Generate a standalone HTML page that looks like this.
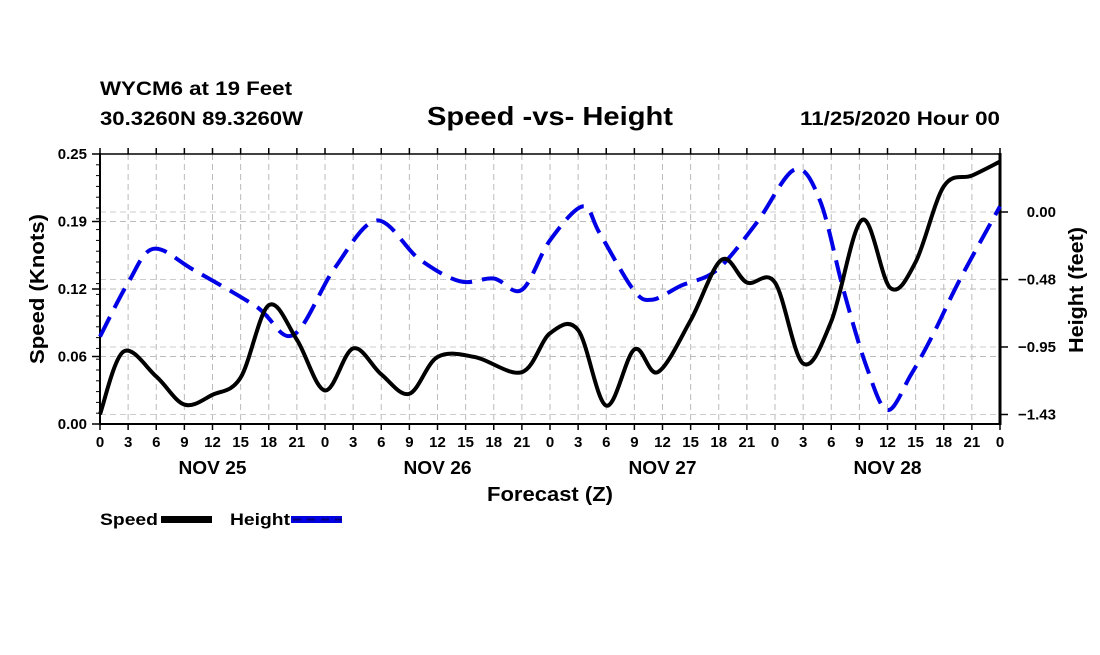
<!DOCTYPE html>
<html><head><meta charset="utf-8"><style>
body{margin:0;background:#fff;}
svg text{font-family:"Liberation Sans",sans-serif;font-weight:bold;fill:#000;}
</style></head><body>
<svg id="chart" width="1100" height="650" viewBox="0 0 1100 650" xmlns="http://www.w3.org/2000/svg">
<text x="100" y="95" font-size="19" textLength="192" lengthAdjust="spacingAndGlyphs">WYCM6 at 19 Feet</text>
<text x="100" y="125" font-size="19" textLength="203" lengthAdjust="spacingAndGlyphs">30.3260N 89.3260W</text>
<text x="427" y="125" font-size="26" textLength="246" lengthAdjust="spacingAndGlyphs">Speed -vs- Height</text>
<text x="800" y="125" font-size="19" textLength="200" lengthAdjust="spacingAndGlyphs">11/25/2020 Hour 00</text>
<g id="grid"></g><g id="axes"></g><g id="series"></g>
<text transform="translate(44,289) rotate(-90)" font-size="20" text-anchor="middle" textLength="150" lengthAdjust="spacingAndGlyphs">Speed (Knots)</text>
<text transform="translate(1083,290) rotate(-90)" font-size="20" text-anchor="middle" textLength="126" lengthAdjust="spacingAndGlyphs">Height (feet)</text>
<text x="550" y="501" font-size="20" text-anchor="middle" textLength="126" lengthAdjust="spacingAndGlyphs">Forecast (Z)</text>
<g>
<text x="100" y="525" font-size="17" textLength="58" lengthAdjust="spacingAndGlyphs">Speed</text>
<rect x="161" y="516" width="51" height="7" fill="#000"/>
<text x="230" y="525" font-size="17" textLength="60" lengthAdjust="spacingAndGlyphs">Height</text>
<rect x="291" y="516" width="51" height="7" fill="#0000e0"/>
<line x1="293" y1="519.5" x2="342" y2="519.5" stroke="#000080" stroke-width="2" stroke-dasharray="8,6"/>
</g>
</svg>
<script>
const speedHours=[0,2.5,6,9,12,15,18,21,24,27,30,33,36,40,45,48,51,54,57,59.5,63,66.3,69,72,75,78,81.3,84.3,87,90,93,96];
const speedVals=[0.009,0.067,0.044,0.018,0.027,0.043,0.110,0.078,0.031,0.070,0.046,0.028,0.062,0.062,0.048,0.084,0.087,0.017,0.069,0.048,0.096,0.152,0.131,0.131,0.056,0.095,0.189,0.126,0.150,0.220,0.230,0.243];
const heightHours=[0,3,5.7,10,16.7,20.6,25,29.5,34,38.4,42,45,48,51.5,53.3,56.9,58.9,62,65.8,70,74.1,76.8,79.3,81.8,84,86.5,88.9,91.7,96];
const heightVals=[-0.88,-0.50,-0.26,-0.41,-0.67,-0.87,-0.40,-0.06,-0.33,-0.49,-0.47,-0.55,-0.20,0.04,-0.15,-0.55,-0.62,-0.52,-0.41,-0.08,0.30,0.08,-0.55,-1.10,-1.40,-1.15,-0.86,-0.48,0.04];
const speedTicks=["0.00","0.06","0.12","0.19","0.25"];
const heightTicks=["0.00","-0.48","-0.95","-1.43"];
const heightTickVals=[0,-0.477,-0.954,-1.431];
const hourLabels=["0","3","6","9","12","15","18","21"];
const dayLabels=["NOV 25","NOV 26","NOV 27","NOV 28"];

const L=100,R=1000,T=154,B=424;
const xs=h=>L+h*(R-L)/96;
const ys=v=>B-v*(B-T)/0.25;
const yh=v=>212-v*141.5;
const NS="http://www.w3.org/2000/svg";
function mk(tag,attrs,parent){const e=document.createElementNS(NS,tag);for(const k in attrs)e.setAttribute(k,attrs[k]);parent.appendChild(e);return e;}
const grid=document.getElementById('grid'),axes=document.getElementById('axes'),ser=document.getElementById('series');
for(let i=0;i<=32;i++){
  const x=xs(i*3);
  if(i>0&&i<32){const g=mk('line',{x1:x,y1:T,x2:x,y2:B,stroke:'#bbb','stroke-width':1,'stroke-dasharray':'6,4'},grid);
  }
  mk('line',{x1:x,y1:B,x2:x,y2:B+6,stroke:'#000','stroke-width':1.5},axes);
  mk('line',{x1:x,y1:T,x2:x,y2:T-6,stroke:'#000','stroke-width':1.5},axes);
  const lab=i===32?"0":hourLabels[i%8];
  const t=mk('text',{x:x,y:B+23,'font-size':15,'text-anchor':'middle'},axes);t.textContent=lab;
  
}
dayLabels.forEach((d,i)=>{const t=mk('text',{x:xs(i*24+12),y:B+50,'font-size':18,'text-anchor':'middle',textLength:68,lengthAdjust:'spacingAndGlyphs'},axes);t.textContent=d;
});
speedTicks.forEach((s,i)=>{const v=i*0.0625,y=ys(v);
  if(i>0&&i<4){const g=mk('line',{x1:L,y1:y,x2:R,y2:y,stroke:'#bbb','stroke-width':1,'stroke-dasharray':'6,4'},grid);
  }
  mk('line',{x1:L-8,y1:y,x2:L,y2:y,stroke:'#000','stroke-width':1.5},axes);
  const t=mk('text',{x:L-13,y:y+5,'font-size':15,'text-anchor':'end'},axes);t.textContent=s;
  });
for(let i=0;i<=25;i++){const y=ys(i*0.01);mk('line',{x1:L-4,y1:y,x2:L,y2:y,stroke:'#000','stroke-width':1},axes);}
heightTicks.forEach((s,i)=>{const y=yh(heightTickVals[i]);
  const g=mk('line',{x1:L,y1:y,x2:R,y2:y,stroke:'#ccc','stroke-width':1,'stroke-dasharray':'6,4'},grid);
  
  mk('line',{x1:R,y1:y,x2:R+8,y2:y,stroke:'#000','stroke-width':1.5},axes);
  const t=mk('text',{x:R+56,y:y+5,'font-size':15,'text-anchor':'end'},axes);t.textContent=s.replace('-','\u2212');
  });
mk('line',{x1:L,y1:T,x2:R,y2:T,stroke:'#000','stroke-width':1.5},axes);
mk('line',{x1:L,y1:T-1,x2:L,y2:B+1,stroke:'#000','stroke-width':2},axes);
mk('line',{x1:L,y1:B,x2:R,y2:B,stroke:'#000','stroke-width':2},axes);
mk('line',{x1:R,y1:T-1,x2:R,y2:B+1,stroke:'#000','stroke-width':3},axes);
function path(pts){let d='M'+pts[0][0]+','+pts[0][1];
  for(let i=0;i<pts.length-1;i++){const p0=pts[Math.max(0,i-1)],p1=pts[i],p2=pts[i+1],p3=pts[Math.min(pts.length-1,i+2)];
  const c1=[p1[0]+(p2[0]-p0[0])/6,p1[1]+(p2[1]-p0[1])/6],c2=[p2[0]-(p3[0]-p1[0])/6,p2[1]-(p3[1]-p1[1])/6];
  d+=' C'+c1.join(',')+' '+c2.join(',')+' '+p2.join(',');}return d;}
const hp=mk('path',{d:path(heightHours.map((h,i)=>[xs(h),yh(heightVals[i])])),fill:'none',stroke:'#0000e6','stroke-width':4,'stroke-dasharray':'22,10'},ser);

const sp=mk('path',{d:path(speedHours.map((h,i)=>[xs(h),ys(speedVals[i])])),fill:'none',stroke:'#000','stroke-width':4,'stroke-linejoin':'round'},ser);

</script>
</body></html>
